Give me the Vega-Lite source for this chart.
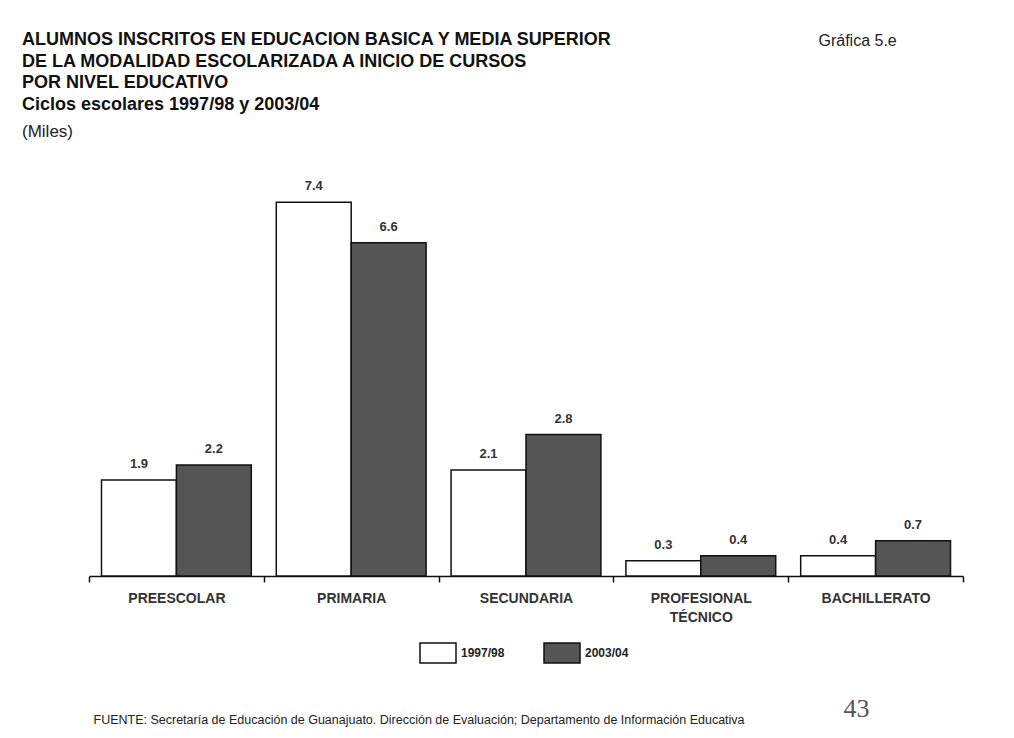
{
  "$schema": "https://vega.github.io/schema/vega-lite/v6.json",
  "autosize": {"type": "none"},
  "padding": {"left": 89, "top": 172, "right": 51, "bottom": 162},
  "width": 874,
  "height": 404,
  "background": "white",
  "config": {"view": {"stroke": null}, "font": "Liberation Sans"},
  "title": {
    "text": ["ALUMNOS INSCRITOS EN EDUCACION BASICA Y MEDIA SUPERIOR", "DE LA MODALIDAD ESCOLARIZADA A INICIO DE CURSOS", "POR NIVEL EDUCATIVO", "Ciclos escolares 1997/98 y 2003/04"],
    "subtitle": "(Miles)",
    "anchor": "start",
    "frame": "group",
    "dx": -67,
    "offset": -108,
    "font": "Liberation Sans",
    "fontSize": 18,
    "fontWeight": "bold",
    "color": "#111",
    "lineHeight": 21.7,
    "subtitleFont": "Liberation Sans",
    "subtitleFontSize": 17,
    "subtitleColor": "#222",
    "subtitlePadding": 10
  },
  "data": {
    "values": [
      {"nivel": "PREESCOLAR", "ciclo": "1997/98", "miles": 1.9},
      {"nivel": "PREESCOLAR", "ciclo": "2003/04", "miles": 2.2},
      {"nivel": "PRIMARIA", "ciclo": "1997/98", "miles": 7.4},
      {"nivel": "PRIMARIA", "ciclo": "2003/04", "miles": 6.6},
      {"nivel": "SECUNDARIA", "ciclo": "1997/98", "miles": 2.1},
      {"nivel": "SECUNDARIA", "ciclo": "2003/04", "miles": 2.8},
      {"nivel": "PROFESIONAL TÉCNICO", "ciclo": "1997/98", "miles": 0.3},
      {"nivel": "PROFESIONAL TÉCNICO", "ciclo": "2003/04", "miles": 0.4},
      {"nivel": "BACHILLERATO", "ciclo": "1997/98", "miles": 0.4},
      {"nivel": "BACHILLERATO", "ciclo": "2003/04", "miles": 0.7}
    ]
  },
  "encoding": {
    "x": {
      "field": "nivel",
      "type": "nominal",
      "sort": null,
      "scale": {"paddingInner": 0, "paddingOuter": 0},
      "axis": {
        "title": "FUENTE: Secretaría de Educación de Guanajuato.  Dirección de Evaluación;  Departamento de Información Educativa",
        "titleX": 4,
        "titleY": 143,
        "titleAlign": "left",
        "titleAnchor": "start",
        "titleBaseline": "middle",
        "titleFont": "Liberation Sans",
        "titleFontSize": 12.5,
        "titleFontWeight": "normal",
        "titleColor": "#222",
        "labelAngle": 0,
        "labelFont": "Liberation Sans",
        "labelFontSize": 14,
        "labelFontWeight": "bold",
        "labelColor": "#333",
        "labelPadding": 9,
        "labelLineHeight": 19,
        "labelBaseline": "top",
        "labelExpr": "datum.value == 'PROFESIONAL TÉCNICO' ? ['PROFESIONAL', 'TÉCNICO'] : datum.label",
        "tickBand": "extent",
        "tickSize": 6,
        "tickColor": "#111",
        "tickWidth": 1.5,
        "domainColor": "#111",
        "domainWidth": 1.5,
        "grid": false
      }
    },
    "xOffset": {"field": "ciclo", "type": "nominal", "scale": {"paddingInner": 0, "paddingOuter": 0.1667}},
    "y": {"field": "miles", "type": "quantitative", "scale": {"domain": [0, 8]}}
  },
  "layer": [
    {
      "mark": {"type": "bar", "stroke": "#111", "strokeWidth": 1.5},
      "encoding": {
        "y": {
          "field": "miles",
          "type": "quantitative",
          "scale": {"domain": [0, 8]},
          "axis": {
            "title": "Gráfica 5.e",
            "titleAngle": 0,
            "titleX": 729,
            "titleY": -132,
            "titleAlign": "left",
            "titleBaseline": "middle",
            "titleFont": "Liberation Sans",
            "titleFontSize": 16,
            "titleFontWeight": "normal",
            "titleColor": "#222",
            "domain": false,
            "ticks": false,
            "labels": false,
            "grid": false
          }
        },
        "fill": {
          "field": "ciclo",
          "type": "nominal",
          "scale": {"domain": ["1997/98", "2003/04"], "range": ["#ffffff", "#555555"]},
          "legend": {
            "title": null,
            "orient": "none",
            "legendX": 328,
            "legendY": 460,
            "direction": "horizontal",
            "symbolType": "M-0.9,-0.5H0.9V0.5H-0.9Z",
            "symbolSize": 1600,
            "symbolStrokeColor": "#111",
            "symbolStrokeWidth": 1.5,
            "symbolOpacity": 1,
            "labelFont": "Liberation Sans",
            "labelFontSize": 12,
            "labelFontWeight": "bold",
            "labelColor": "#222",
            "labelOffset": 2,
            "columnPadding": 36
          }
        }
      }
    },
    {
      "mark": {"type": "text", "baseline": "bottom", "dy": -9, "font": "Liberation Sans", "fontSize": 13, "fontWeight": "bold", "color": "#333"},
      "encoding": {
        "y": {
          "field": "miles",
          "type": "quantitative",
          "scale": {"domain": [0, 8]},
          "axis": {
            "orient": "right",
            "title": "43",
            "titleAngle": 0,
            "titleX": -120,
            "titleY": 536,
            "titleAlign": "left",
            "titleBaseline": "middle",
            "titleFont": "Liberation Serif",
            "titleFontSize": 26,
            "titleFontWeight": "normal",
            "titleColor": "#555",
            "domain": false,
            "ticks": false,
            "labels": false,
            "grid": false
          }
        },
        "text": {"field": "miles", "type": "quantitative", "format": ".1f"}
      }
    }
  ],
  "resolve": {"axis": {"y": "independent"}}
}
